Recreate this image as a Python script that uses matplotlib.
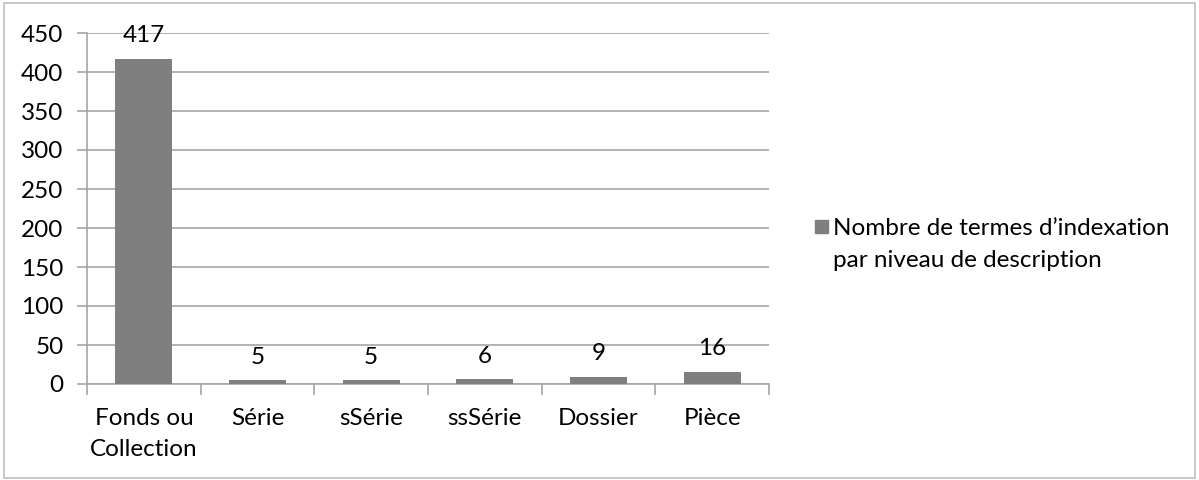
import matplotlib
matplotlib.use('Agg')
import matplotlib.pyplot as plt
from matplotlib.patches import Rectangle
import numpy as np

plt.rcParams.update({
    'font.family': ['Lato', 'DejaVu Sans'],
    'font.size': 17.5,
})

categories = ['Fonds ou\nCollection', 'Série', 'sSérie', 'ssSérie', 'Dossier', 'Pièce']
counts = [417, 5, 5, 6, 9, 16]
yticks = [0, 50, 100, 150, 200, 250, 300, 350, 400, 450]
series_label = 'Nombre de termes d\u2019indexation\npar niveau de description'

BAR = '#7f7f7f'
GRID = '#a6a6a6'

fig = plt.figure(figsize=(11.99, 4.8), dpi=100)
ax = fig.add_axes([0.0726, 0.2, 0.5688, 0.73125])

x = np.arange(len(categories))
ax.bar(x, counts, width=0.5, color=BAR, zorder=3)
for xi, v in zip(x, counts):
    ax.annotate(str(v), (xi, v), xytext=(0, 9), textcoords='offset points',
                ha='center', va='bottom', zorder=4)

ax.set_xlim(-0.5, len(categories) - 0.5)
ax.set_ylim(0, 450)
ax.set_yticks(yticks)
ax.yaxis.grid(True, color=GRID, lw=1.2, zorder=0)

# category boundaries carry the tick marks, labels sit between them
ax.set_xticks(np.arange(len(categories) + 1) - 0.5)
ax.set_xticklabels([])
ax.set_xticks(x, minor=True)
ax.set_xticklabels(categories, minor=True, linespacing=1.6)
ax.tick_params(axis='x', which='major', length=8, width=1.2, color=GRID, direction='out')
ax.tick_params(axis='x', which='minor', length=0, pad=17)
ax.tick_params(axis='y', length=7, width=1.2, color=GRID, pad=10)

for side in ('top', 'right'):
    ax.spines[side].set_visible(False)
for side in ('left', 'bottom'):
    ax.spines[side].set_color(GRID)
    ax.spines[side].set_linewidth(1.2)

# legend: swatch aligned with the first line of the label
fig.patches.append(Rectangle((0.6797, 0.5146), 0.0108, 0.027, transform=fig.transFigure,
                             color=BAR))
fig.text(0.6945, 0.545, series_label, ha='left', va='top', linespacing=1.6)

fig.patches.append(Rectangle((0.003, 0.004), 0.994, 0.99, transform=fig.transFigure,
                             fill=False, edgecolor='#bfbfbf', lw=1.2))

fig.savefig('out.png', dpi=100, facecolor='white')
